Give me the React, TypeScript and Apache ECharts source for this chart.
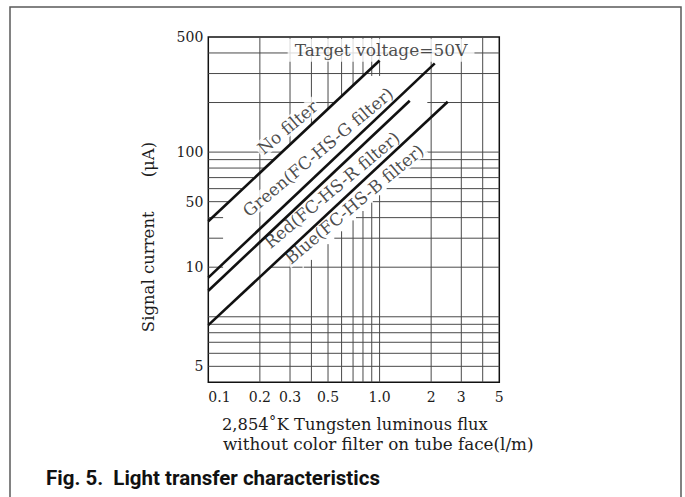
import React, { useEffect, useRef } from "react";
import * as echarts from "echarts";

// ---- data ----
const xMin = 0.1;
const xMax = 5;
const yMin = 4;
const yMax = 500;

const xTickValues = [0.1, 0.2, 0.3, 0.5, 1, 2, 3, 5];
const xTickLabels = ["0.1", "0.2", "0.3", "0.5", "1.0", "2", "3", "5"];
// labels as printed in the reference (the "10" sits on the 20 grid line there)
const yTickValues = [5, 20, 50, 100, 500];
const yTickLabels = ["5", "10", "50", "100", "500"];

const xGridValues = [0.3, 0.4, 0.5, 0.6, 0.7, 0.8, 0.9, 1, 2, 3, 4];
const xGridUnbroken = [0.2];
const yGridValues = [5, 6, 7, 8, 9, 10, 20, 30, 40, 50, 60, 70, 80, 90, 100, 200, 300, 400];

const curveNames = ["No filter", "Green(FC-HS-G filter)", "Red(FC-HS-R filter)", "Blue(FC-HS-B filter)"];
const noFilterFlux = [0.1, 1.0];
const noFilterCurrent = [38, 360];
const greenFlux = [0.1, 2.1];
const greenCurrent = [17.3, 346];
const redFlux = [0.1, 1.5];
const redCurrent = [14.4, 205];
const blueFlux = [0.1, 2.5];
const blueCurrent = [8.9, 202];

const targetText = "Target voltage=50V";
const xTitle1 = "2,854\u02daK Tungsten luminous flux";
const xTitle2 = "without color filter on tube face(l/m)";
const yTitle = "Signal current\u3000\u3000(\u03bcA)";
const caption = "Fig. 5.  Light transfer characteristics";

// ---- helpers / layout ----
const L = (v: number) => Math.log10(v);
const curveFlux = [noFilterFlux, greenFlux, redFlux, blueFlux];
const curveCurrent = [noFilterCurrent, greenCurrent, redCurrent, blueCurrent];
const labelAnchors = [
  [0.29, 141],
  [0.437, 100],
  [0.527, 58.9],
  [0.711, 48.3],
];
const targetAnchor = [1.02, 415];
// region where the printed grid is left blank around the curves
const blankRegion = [
  [0.122, 47],
  [0.8, 290],
  [1.9, 290],
  [1.9, 103],
  [0.357, 19.8],
  [0.31, 26.5],
  [0.122, 10.8],
];

const pickLabel = (v: number, values: number[], labels: string[]) => {
  let best = 0;
  let d = Infinity;
  values.forEach((t, i) => {
    const dd = Math.abs(L(t) - v);
    if (dd < d) {
      d = dd;
      best = i;
    }
  });
  return labels[best];
};

type P = number[];
const insidePoly = (pt: P, poly: P[]) => {
  let inside = false;
  for (let i = 0, j = poly.length - 1; i < poly.length; j = i++) {
    const xi = poly[i][0], yi = poly[i][1], xj = poly[j][0], yj = poly[j][1];
    if (yi > pt[1] !== yj > pt[1] && pt[0] < ((xj - xi) * (pt[1] - yi)) / (yj - yi) + xi) inside = !inside;
  }
  return inside;
};
// parts of segment a-b lying outside the polygon (all in log units)
const outsideParts = (a: P, b: P, poly: P[]) => {
  const ts = [0, 1];
  const dx = b[0] - a[0], dy = b[1] - a[1];
  for (let i = 0; i < poly.length; i++) {
    const p = poly[i], q = poly[(i + 1) % poly.length];
    const ex = q[0] - p[0], ey = q[1] - p[1];
    const den = dx * ey - dy * ex;
    if (Math.abs(den) < 1e-12) continue;
    const t = ((p[0] - a[0]) * ey - (p[1] - a[1]) * ex) / den;
    const u = ((p[0] - a[0]) * dy - (p[1] - a[1]) * dx) / den;
    if (t > 0 && t < 1 && u >= 0 && u <= 1) ts.push(t);
  }
  ts.sort((m, n) => m - n);
  const out: number[][] = [];
  for (let i = 0; i < ts.length - 1; i++) {
    const t0 = ts[i], t1 = ts[i + 1];
    if (t1 - t0 < 1e-9) continue;
    const tm = (t0 + t1) / 2;
    if (!insidePoly([a[0] + dx * tm, a[1] + dy * tm], poly)) {
      out.push([a[0] + dx * t0, a[1] + dy * t0, a[0] + dx * t1, a[1] + dy * t1]);
    }
  }
  return out;
};

const FONT = "DejaVu Serif";
const INK = "#1c1c1c";
const GRIDC = "#4a4a4a";

function segRender(params: any, api: any) {
  const p1 = api.coord([api.value(0), api.value(1)]);
  const p2 = api.coord([api.value(2), api.value(3)]);
  return {
    type: "line",
    shape: { x1: p1[0], y1: p1[1], x2: p2[0], y2: p2[1] },
    style: { stroke: GRIDC, lineWidth: 1 },
  };
}

export default function App() {
  const ref = useRef<HTMLDivElement>(null);
  useEffect(() => {
    if (!ref.current) return;
    const chart = echarts.init(ref.current, undefined, { renderer: "svg" });

    const poly = blankRegion.map((p) => [L(p[0]), L(p[1])]);
    const segs: number[][] = [];
    xGridValues.forEach((v) => segs.push(...outsideParts([L(v), L(yMin)], [L(v), L(yMax)], poly)));
    yGridValues.forEach((v) => segs.push(...outsideParts([L(xMin), L(v)], [L(xMax), L(v)], poly)));
    xGridUnbroken.forEach((v) => segs.push([L(v), L(yMin), L(v), L(yMax)]));

    const labelData: any[] = curveNames.map((n, i) => ({
      name: n,
      value: [L(labelAnchors[i][0]), L(labelAnchors[i][1])],
      label: { rotate: 40, padding: [0, 2] },
    }));
    labelData.push({
      name: targetText,
      value: [L(targetAnchor[0]), L(targetAnchor[1])],
      label: { rotate: 0, padding: [3, 7] },
    });

    const option: any = {
      animation: false,
      backgroundColor: "#ffffff",
      textStyle: { fontFamily: FONT },
      grid: {
        left: 208.3,
        right: 185.7,
        top: 37,
        bottom: 114.7,
        show: true,
        borderColor: "#111",
        borderWidth: 1.5,
        backgroundColor: "transparent",
      },
      xAxis: {
        type: "value",
        min: L(xMin),
        max: L(xMax),
        axisLine: { show: false },
        axisTick: { show: false },
        splitLine: { show: false },
        axisLabel: {
          customValues: xTickValues.map(L),
          formatter: (v: number) => pickLabel(v, xTickValues, xTickLabels),
          alignMinLabel: "left",
          showMinLabel: true,
          showMaxLabel: true,
          fontFamily: FONT,
          fontSize: 14,
          color: INK,
          margin: 8,
        },
      },
      yAxis: {
        type: "value",
        min: L(yMin),
        max: L(yMax),
        axisLine: { show: false },
        axisTick: { show: false },
        splitLine: { show: false },
        axisLabel: {
          customValues: yTickValues.map(L),
          formatter: (v: number) => pickLabel(v, yTickValues, yTickLabels),
          showMinLabel: true,
          showMaxLabel: true,
          fontFamily: FONT,
          fontSize: 14,
          color: INK,
          margin: 5,
        },
      },
      series: [
        {
          type: "custom",
          silent: true,
          z: 1,
          data: segs,
          renderItem: segRender,
        },
        {
          type: "scatter",
          silent: true,
          z: 4,
          symbolSize: 1,
          itemStyle: { color: "rgba(0,0,0,0)" },
          data: labelData,
          label: {
            show: true,
            position: "inside",
            formatter: "{b}",
            fontFamily: FONT,
            fontSize: 17,
            color: INK,
            backgroundColor: "#ffffff",
          },
        },
        ...curveNames.map((n, i) => ({
          type: "line",
          name: n,
          silent: true,
          z: 5,
          symbol: "none",
          data: curveFlux[i].map((x, k) => [L(x), L(curveCurrent[i][k])]),
          lineStyle: { color: "#111", width: 2.6 },
        })),
      ],
      graphic: [
        {
          type: "rect",
          shape: { x: 10, y: 7, width: 671, height: 530 },
          style: { fill: "none", stroke: "#5a5a5a", lineWidth: 1.5 },
          silent: true,
        },
        {
          type: "text",
          x: 148,
          y: 237,
          rotation: Math.PI / 2,
          style: {
            text: yTitle,
            fontFamily: FONT,
            fontSize: 16.5,
            fill: INK,
            align: "center",
            verticalAlign: "middle",
            textAlign: "center",
            textVerticalAlign: "middle",
          },
        },
        {
          type: "text",
          x: 222,
          y: 424,
          style: {
            text: xTitle1,
            fontFamily: FONT,
            fontSize: 16.3,
            fill: INK,
            align: "left",
            verticalAlign: "middle",
            textAlign: "left",
            textVerticalAlign: "middle",
          },
        },
        {
          type: "text",
          x: 223,
          y: 444,
          style: {
            text: xTitle2,
            fontFamily: FONT,
            fontSize: 16.8,
            fill: INK,
            align: "left",
            verticalAlign: "middle",
            textAlign: "left",
            textVerticalAlign: "middle",
          },
        },
        {
          type: "text",
          x: 46,
          y: 478,
          style: {
            text: caption,
            fontFamily: "Roboto",
            fontWeight: "bold",
            fontSize: 20.5,
            fill: "#111",
            align: "left",
            verticalAlign: "middle",
            textAlign: "left",
            textVerticalAlign: "middle",
          },
        },
      ],
    };
    chart.setOption(option);
    return () => chart.dispose();
  }, []);

  return (
    <div
      ref={ref}
      style={{ position: "fixed", left: 0, top: 0, width: 685, height: 497, background: "#fff" }}
    />
  );
}
